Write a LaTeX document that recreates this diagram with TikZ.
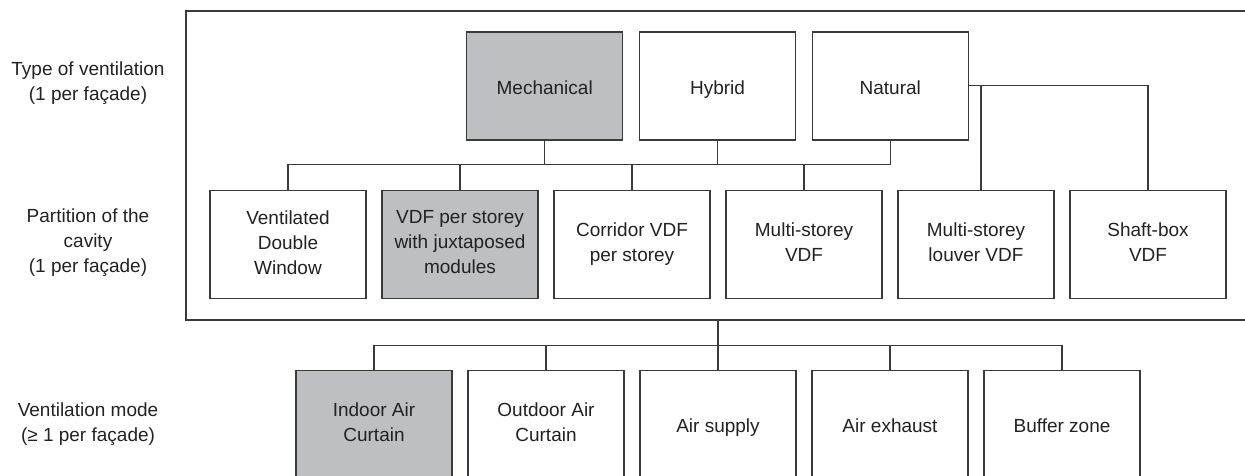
\documentclass[tikz,border=0pt]{standalone}
\usepackage{fontspec}
\setmainfont{Liberation Sans}
\definecolor{linec}{HTML}{3A3A3A}
\definecolor{txtc}{HTML}{222222}
\definecolor{selfill}{HTML}{BEBFC2}
% line strut that keeps cap letters centred in a node
\newcommand\capstrut{\rule[-4.2pt]{0pt}{25pt}}
\begin{document}
\begin{tikzpicture}[x=1pt,y=-1pt,
  every node/.style={text=txtc, font=\fontsize{19}{25}\selectfont, align=center, inner sep=0pt},
  box/.style={draw=linec, line width=1.1pt, fill=white, minimum width=156pt, minimum height=108pt,
    execute at begin node=\capstrut, execute at end node=\capstrut},
  sel/.style={box, fill=selfill},
  wire/.style={draw=linec, line width=1.1pt},
  lbl/.style={text=txtc, execute at begin node=\capstrut, execute at end node=\capstrut}]
\useasboundingbox (0,0) rectangle (1245,475);
\clip (0,0) rectangle (1245,475);

% outer frame around the first two levels
\node[draw=linec, line width=1.1pt, minimum width=1080pt, minimum height=309pt] (frame) at (726,165.5) {};

% level labels
\node[lbl] (l1) at (88,83.5) {Type of ventilation\\(1 per façade)};
\node[lbl] (l2) at (88,243) {Partition of the\\cavity\\(1 per façade)};
\node[lbl] (l3) at (88,424.5) {Ventilation mode\\(≥ 1 per façade)};

% type of ventilation
\node[sel] (mech) at (544.7,86) {Mechanical};
\node[box] (hyb)  at (717.5,86) {Hybrid};
\node[box] (nat)  at (890.3,86) {Natural};

% partition of the cavity
\node[box] (vdw)   at (288,244.5) {Ventilated\\Double\\Window};
\node[sel] (pst)   at (460,244.5) {VDF per storey\\with juxtaposed\\modules};
\node[box] (cor)   at (632,244.5) {Corridor VDF\\per storey};
\node[box] (mst)   at (804,244.5) {Multi-storey\\VDF};
\node[box] (lou)   at (976,244.5) {Multi-storey\\louver VDF};
\node[box] (shaft) at (1148,244.5) {Shaft-box\\VDF};

% ventilation mode
\node[sel] (iac) at (374,424.5) {Indoor Air\\Curtain};
\node[box] (oac) at (546,424.5) {Outdoor Air\\Curtain};
\node[box] (sup) at (718,424.5) {Air supply};
\node[box] (exh) at (890,424.5) {Air exhaust};
\node[box] (buf) at (1062,424.5) {Buffer zone};

% tree from type of ventilation to partition
\coordinate (busA) at (0,164.3);
\draw[wire] (vdw.north) |- (busA -| mech.south) -- (mech.south);
\draw[wire] (busA -| mech.south) -| (pst.north);
\draw[wire] (busA -| mech.south) -| (cor.north);
\draw[wire] (busA -| cor.north) -| (hyb.south);
\draw[wire] (busA -| hyb.south) -| (nat.south);
\draw[wire] (busA -| nat.south) -| (mst.north);
\coordinate (nE) at (nat.east |- 0,85.3);
\coordinate (louTop) at ([xshift=5pt]lou.north);
\draw[wire] (nE) -| (shaft.north);
\draw[wire] (nE -| louTop) -- (louTop);

% tree from the frame to ventilation modes
\coordinate (busB) at (0,345.7);
\draw[wire] (frame.south -| sup.north) -- (sup.north);
\draw[wire] (iac.north) |- (busB -| buf.north) -- (buf.north);
\draw[wire] (busB -| oac.north) -- (oac.north);
\draw[wire] (busB -| exh.north) -- (exh.north);
\end{tikzpicture}
\end{document}
